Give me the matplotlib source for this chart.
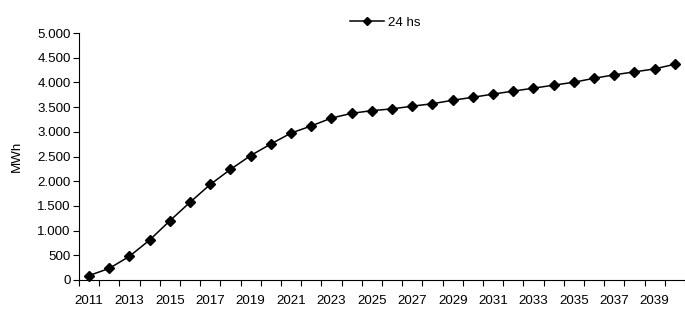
import matplotlib.pyplot as plt
from matplotlib.ticker import FuncFormatter

plt.rcParams['font.family'] = ['Liberation Sans', 'DejaVu Sans']

anios = list(range(2011, 2041))
energia_24hs = [90, 235, 480, 810, 1200, 1575, 1935, 2240, 2520, 2755,
                2975, 3120, 3280, 3375, 3430, 3465, 3520, 3570, 3640, 3700,
                3765, 3825, 3885, 3945, 4005, 4085, 4155, 4215, 4275, 4370]
etiquetas_x = [str(a) for a in anios[::2]]

fig = plt.figure(figsize=(6.85, 3.09), dpi=100)
ax = fig.add_axes([0.1153, 0.0939, 0.8847, 0.7990])

pos = list(range(len(anios)))
ax.plot(pos, energia_24hs, '-', color='black', linewidth=1.1,
        marker='D', markersize=5.3, markerfacecolor='black',
        markeredgecolor='black', label='24 hs', clip_on=False)

ax.set_ylim(0, 5000)
ax.set_yticks(range(0, 5001, 500))
ax.yaxis.set_major_formatter(FuncFormatter(lambda v, p: f"{int(v):,}".replace(',', '.')))
ax.set_xlim(-0.5, 29.07)

# ticks entre categorías, etiquetas una sí una no
ax.set_xticks([i - 0.5 for i in range(len(anios) + 1)])
ax.set_xticklabels([])
ax.set_xticks(pos[::2], minor=True)
ax.set_xticklabels(etiquetas_x, minor=True)
ax.tick_params(axis='x', which='major', length=4, width=0.8, direction='out')
ax.tick_params(axis='x', which='minor', length=0, pad=10.5, labelsize=9.6)
ax.tick_params(axis='y', length=4, width=0.8, direction='out', labelsize=9.6, pad=2)

for lado in ['top', 'right']:
    ax.spines[lado].set_visible(False)
ax.spines['left'].set_linewidth(0.8)
ax.spines['bottom'].set_linewidth(0.8)

ax.set_ylabel('MWh', fontsize=9.6, labelpad=10)

leg = fig.legend(loc='upper center', bbox_to_anchor=(0.563, 0.985), frameon=False,
                 fontsize=9.6, handlelength=2.5, handletextpad=0.35, markerscale=0.8)

fig.savefig('out.png', dpi=100)
